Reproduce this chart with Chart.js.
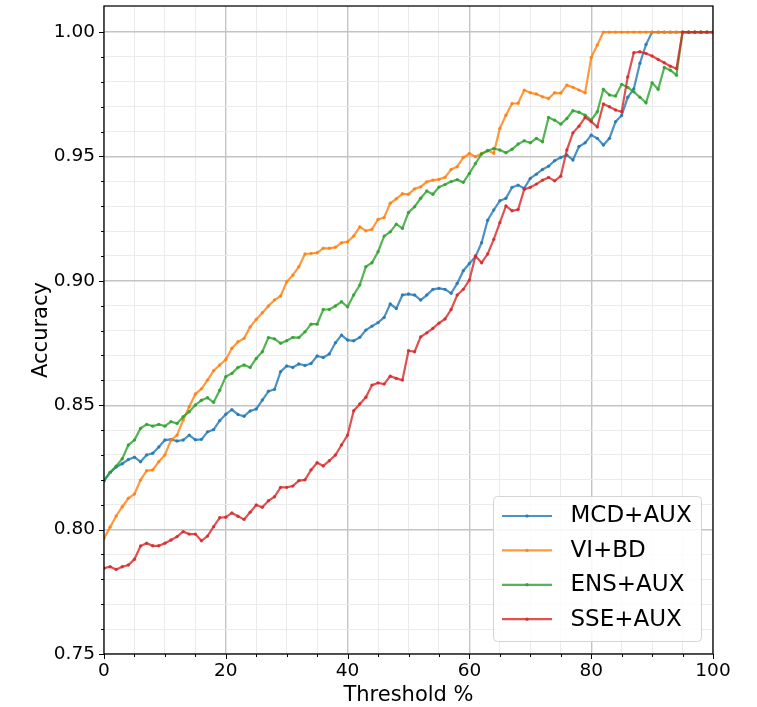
<!DOCTYPE html>
<html>
<head>
<meta charset="utf-8">
<script src="https://cdn.jsdelivr.net/npm/chart.js@4.4.0/dist/chart.umd.min.js"></script>
<style>
  html, body { margin: 0; padding: 0; background: #ffffff; }
  #wrap { width: 757px; height: 707px; }
</style>
</head>
<body>
<div id="wrap"><canvas id="c" width="757" height="707"></canvas></div>
<script>
// ---------------- data ----------------
const thresholds = [0,1,2,3,4,5,6,7,8,9,10,11,12,13,14,15,16,17,18,19,20,21,22,23,24,25,26,27,28,29,30,31,32,33,34,35,36,37,38,39,40,41,42,43,44,45,46,47,48,49,50,51,52,53,54,55,56,57,58,59,60,61,62,63,64,65,66,67,68,69,70,71,72,73,74,75,76,77,78,79,80,81,82,83,84,85,86,87,88,89,90,91,92,93,94,95,96,97,98,99,100];

const seriesNames = ["MCD+AUX", "VI+BD", "ENS+AUX", "SSE+AUX"];

const mcdAux = [0.8195,0.8230,0.8252,0.8265,0.8282,0.8291,0.8273,0.8300,0.8307,0.8332,
  0.8360,0.8363,0.8356,0.8360,0.8380,0.8361,0.8363,0.8393,0.8402,0.8438,
  0.8464,0.8482,0.8463,0.8456,0.8477,0.8485,0.8521,0.8556,0.8564,0.8635,
  0.8658,0.8652,0.8666,0.8660,0.8668,0.8698,0.8692,0.8706,0.8751,0.8782,
  0.8762,0.8759,0.8773,0.8802,0.8818,0.8832,0.8853,0.8907,0.8889,0.8943,
  0.8947,0.8943,0.8923,0.8943,0.8966,0.8970,0.8966,0.8950,0.8990,0.9041,
  0.9070,0.9097,0.9153,0.9244,0.9285,0.9322,0.9332,0.9376,0.9385,0.9372,
  0.9412,0.9429,0.9448,0.9461,0.9483,0.9496,0.9506,0.9486,0.9540,0.9555,
  0.9586,0.9573,0.9546,0.9573,0.9640,0.9665,0.9738,0.9772,0.9875,0.9950,
  1.0,1.0,1.0,1.0,1.0,1.0,1.0,1.0,1.0,1.0,1.0];

const viBd = [0.7965,0.8010,0.8055,0.8092,0.8126,0.8143,0.8199,0.8237,0.8240,0.8273,
  0.8300,0.8360,0.8380,0.8441,0.8494,0.8545,0.8566,0.8601,0.8639,0.8662,
  0.8684,0.8729,0.8755,0.8769,0.8815,0.8845,0.8872,0.8899,0.8923,0.8939,
  0.8996,0.9023,0.9057,0.9108,0.9110,0.9113,0.9131,0.9131,0.9135,0.9153,
  0.9157,0.9180,0.9217,0.9201,0.9207,0.9247,0.9255,0.9312,0.9330,0.9350,
  0.9348,0.9370,0.9378,0.9398,0.9405,0.9408,0.9416,0.9448,0.9459,0.9496,
  0.9512,0.9499,0.9512,0.9524,0.9513,0.9613,0.9666,0.9713,0.9714,0.9767,
  0.9756,0.9751,0.9740,0.9733,0.9756,0.9755,0.9787,0.9778,0.9767,0.9756,
  0.9898,0.9948,1.0,1.0,1.0,1.0,1.0,1.0,1.0,1.0,
  1.0,1.0,1.0,1.0,1.0,1.0,1.0,1.0,1.0,1.0,1.0];

const ensAux = [0.8199,0.8230,0.8255,0.8285,0.8340,0.8360,0.8407,0.8423,0.8416,0.8423,
  0.8416,0.8434,0.8427,0.8454,0.8474,0.8501,0.8520,0.8530,0.8512,0.8560,
  0.8615,0.8628,0.8652,0.8662,0.8652,0.8688,0.8715,0.8772,0.8767,0.8749,
  0.8759,0.8773,0.8772,0.8795,0.8826,0.8826,0.8885,0.8885,0.8899,0.8916,
  0.8896,0.8943,0.8983,0.9057,0.9073,0.9117,0.9180,0.9197,0.9228,0.9211,
  0.9275,0.9298,0.9332,0.9361,0.9348,0.9377,0.9387,0.9399,0.9407,0.9396,
  0.9432,0.9472,0.9510,0.9523,0.9532,0.9526,0.9515,0.9529,0.9550,0.9563,
  0.9555,0.9573,0.9559,0.9657,0.9646,0.9630,0.9653,0.9684,0.9678,0.9666,
  0.9646,0.9680,0.9770,0.9747,0.9743,0.9790,0.9778,0.9760,0.9738,0.9716,
  0.9796,0.9770,0.9858,0.9847,0.9827,1.0,1.0,1.0,1.0,1.0,1.0];

const sseAux = [0.7845,0.7851,0.7840,0.7851,0.7858,0.7881,0.7934,0.7945,0.7935,0.7935,
  0.7945,0.7958,0.7972,0.7992,0.7982,0.7982,0.7955,0.7974,0.8012,0.8048,
  0.8050,0.8067,0.8054,0.8041,0.8070,0.8099,0.8090,0.8116,0.8132,0.8170,
  0.8170,0.8175,0.8197,0.8200,0.8240,0.8269,0.8256,0.8277,0.8300,0.8340,
  0.8380,0.8478,0.8505,0.8532,0.8581,0.8590,0.8585,0.8617,0.8608,0.8601,
  0.8719,0.8715,0.8775,0.8791,0.8809,0.8830,0.8847,0.8885,0.8943,0.8966,
  0.9003,0.9100,0.9073,0.9108,0.9167,0.9234,0.9301,0.9282,0.9287,0.9368,
  0.9376,0.9389,0.9405,0.9416,0.9402,0.9421,0.9526,0.9595,0.9622,0.9657,
  0.9640,0.9619,0.9711,0.9700,0.9687,0.9680,0.9820,0.9917,0.9921,0.9914,
  0.9904,0.9890,0.9877,0.9863,0.9854,1.0,1.0,1.0,1.0,1.0,1.0];

const yTickValues = [0.75,0.76,0.77,0.78,0.79,0.80,0.81,0.82,0.83,0.84,0.85,0.86,0.87,0.88,0.89,0.90,0.91,0.92,0.93,0.94,0.95,0.96,0.97,0.98,0.99,1.00];
const xTickValues = [0,5,10,15,20,25,30,35,40,45,50,55,60,65,70,75,80,85,90,95,100];

// ---------------- styling ----------------
const FONT = "'DejaVu Sans', 'Liberation Sans', sans-serif";
const colors = ["rgba(31,119,180,0.8)", "rgba(255,127,14,0.8)", "rgba(44,160,44,0.8)", "rgba(214,39,40,0.8)"];
const allSeries = [mcdAux, viBd, ensAux, sseAux];

const isMajorY = v => Math.round(v * 100) % 5 === 0;
const isMajorX = v => Math.round(v) % 20 === 0;

const datasets = allSeries.map((vals, i) => ({
  label: seriesNames[i],
  data: thresholds.map((t, j) => ({ x: t, y: vals[j] })),
  borderColor: colors[i],
  backgroundColor: colors[i],
  pointBackgroundColor: colors[i],
  pointBorderWidth: 0,
  pointRadius: 1.7,
  pointHoverRadius: 1.7,
  borderWidth: 2.2,
  tension: 0,
  fill: false,
  order: 4 - i
}));

// frame + ticks (matplotlib style, major/minor)
const framePlugin = {
  id: 'framePlugin',
  afterDatasetsDraw(chart) {
    const { ctx, chartArea: a, scales } = chart;
    ctx.save();
    ctx.strokeStyle = '#000';
    ctx.lineWidth = 1.25;
    ctx.strokeRect(a.left, a.top, a.right - a.left, a.bottom - a.top);
    ctx.lineWidth = 1;
    scales.y.ticks.forEach(t => {
      const p = Math.round(scales.y.getPixelForValue(t.value)) + 0.5;
      const len = isMajorY(t.value) ? 5 : 3;
      ctx.beginPath();
      ctx.moveTo(a.left - len, p);
      ctx.lineTo(a.left, p);
      ctx.stroke();
    });
    scales.x.ticks.forEach(t => {
      const p = Math.round(scales.x.getPixelForValue(t.value)) + 0.5;
      const len = isMajorX(t.value) ? 5 : 3;
      ctx.beginPath();
      ctx.moveTo(p, a.bottom);
      ctx.lineTo(p, a.bottom + len);
      ctx.stroke();
    });
    ctx.restore();
  }
};

// legend in lower-right corner of the plot
const legendPlugin = {
  id: 'legendPlugin',
  afterDraw(chart) {
    const { ctx, chartArea: a } = chart;
    const w = 208, h = 145;
    const x = a.right - 11.5 - w, y = a.bottom - 12.5 - h;
    const r = 4;
    ctx.save();
    ctx.beginPath();
    ctx.moveTo(x + r, y);
    ctx.lineTo(x + w - r, y);
    ctx.arcTo(x + w, y, x + w, y + r, r);
    ctx.lineTo(x + w, y + h - r);
    ctx.arcTo(x + w, y + h, x + w - r, y + h, r);
    ctx.lineTo(x + r, y + h);
    ctx.arcTo(x, y + h, x, y + h - r, r);
    ctx.lineTo(x, y + r);
    ctx.arcTo(x, y, x + r, y, r);
    ctx.closePath();
    ctx.fillStyle = 'rgba(255,255,255,0.85)';
    ctx.fill();
    ctx.strokeStyle = '#d4d4d4';
    ctx.lineWidth = 1;
    ctx.stroke();

    ctx.font = "23px " + FONT;
    ctx.textBaseline = 'middle';
    ctx.textAlign = 'left';
    chart.data.datasets.forEach((ds, i) => {
      const cy = y + 19.5 + i * 34.4;
      ctx.strokeStyle = ds.borderColor;
      ctx.lineWidth = 2.2;
      ctx.beginPath();
      ctx.moveTo(x + 8.5, cy);
      ctx.lineTo(x + 58.5, cy);
      ctx.stroke();
      ctx.fillStyle = ds.borderColor;
      ctx.beginPath();
      ctx.arc(x + 33.5, cy, 1.7, 0, Math.PI * 2);
      ctx.fill();
      ctx.fillStyle = '#000';
      ctx.fillText(ds.label, x + 77, cy + 0.5);
    });
    ctx.restore();
  }
};

new Chart(document.getElementById('c'), {
  type: 'line',
  data: { datasets },
  plugins: [framePlugin, legendPlugin],
  options: {
    responsive: false,
    animation: false,
    devicePixelRatio: 1,
    layout: { padding: { left: 0, top: 6, right: 44, bottom: 0 } },
    plugins: {
      legend: { display: false },
      tooltip: { enabled: false },
      title: { display: false }
    },
    scales: {
      x: {
        type: 'linear',
        min: 0,
        max: 100,
        afterBuildTicks: s => { s.ticks = xTickValues.map(v => ({ value: v })); },
        afterFit: s => { s.height = 53; s.paddingLeft = 0; s.paddingRight = 0; },
        ticks: {
          autoSkip: false,
          maxRotation: 0,
          padding: 6,
          color: '#000',
          font: { family: FONT, size: 18.5 },
          callback: v => isMajorX(v) ? String(Math.round(v)) : ''
        },
        grid: {
          drawTicks: false,
          color: c => (c.tick && isMajorX(c.tick.value)) ? '#c4c4c4' : '#ebebeb',
          lineWidth: c => (c.tick && isMajorX(c.tick.value)) ? 1.4 : 1
        },
        border: { display: false },
        title: {
          display: true,
          text: 'Threshold %',
          color: '#000',
          font: { family: FONT, size: 21, lineHeight: 1 },
          padding: { top: 0, bottom: 1 }
        }
      },
      y: {
        type: 'linear',
        min: 0.75,
        max: 1.0105,
        afterBuildTicks: s => { s.ticks = yTickValues.map(v => ({ value: v })); },
        afterFit: s => { s.width = 104; s.paddingTop = 0; s.paddingBottom = 0; },
        ticks: {
          autoSkip: false,
          padding: 9,
          color: '#000',
          font: { family: FONT, size: 18.5 },
          callback: v => isMajorY(v) ? v.toFixed(2) : ''
        },
        grid: {
          drawTicks: false,
          color: c => (c.tick && isMajorY(c.tick.value)) ? '#c4c4c4' : '#ebebeb',
          lineWidth: c => (c.tick && isMajorY(c.tick.value)) ? 1.4 : 1
        },
        border: { display: false },
        title: {
          display: true,
          text: 'Accuracy',
          color: '#000',
          font: { family: FONT, size: 21, lineHeight: 1 },
          padding: { top: 31, bottom: 0 }
        }
      }
    }
  }
});
</script>
</body>
</html>
